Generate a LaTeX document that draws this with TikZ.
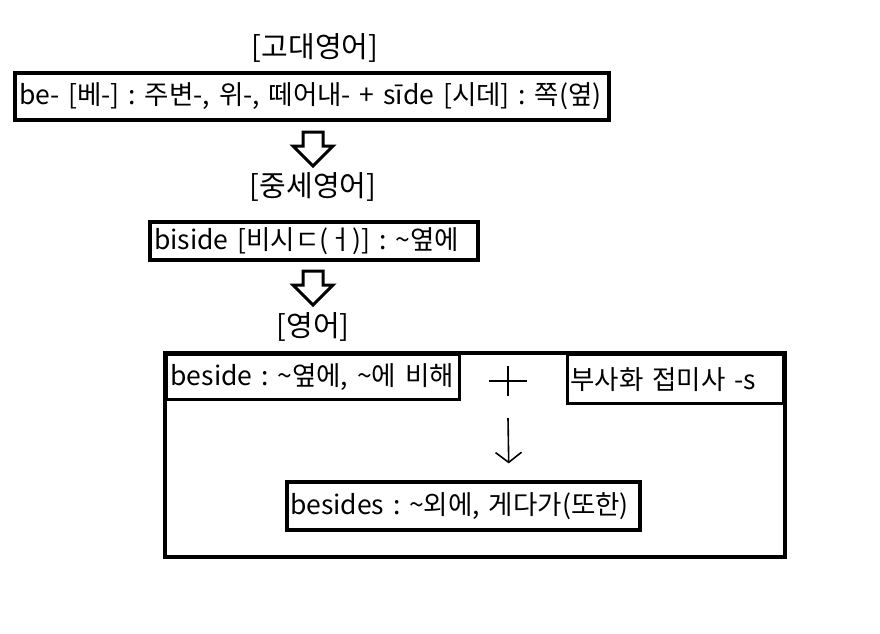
\documentclass[tikz,border=0pt]{standalone}
\usepackage{fontspec}
\setmainfont{Noto Sans CJK KR}
\usetikzlibrary{arrows.meta}
\frenchspacing

\tikzset{
  wordbox/.style={draw,line width=3.2pt,inner xsep=4pt,inner ysep=0pt,align=left,font=\fontsize{26.5}{31}\selectfont},
  era/.style={inner sep=0pt,font=\fontsize{29}{34}\selectfont},
  hollow/.pic={\draw[line width=3pt,line join=miter] (-10,0) -- (-10,-14) -- (-20,-14) -- (0,-34) -- (20,-14) -- (10,-14) -- (10,0) -- cycle;}
}

\begin{document}
\begin{tikzpicture}[x=1pt,y=1pt]
\useasboundingbox (0,0) rectangle (880,-633);
\node[era] (oe) at (315,-48) {[고대영어]};
\node[wordbox,text width=586,minimum height=47] (be) at (312,-96.5) {\mbox{be- [베-] : 주변-, 위-, 떼어내- + sīde [시데] : 쪽(옆)}};
\pic at (313,-132) {hollow};
\node[era] (me) at (313,-187) {[중세영어]};
\node[wordbox,text width=320,minimum height=38] (biside) at (314,-241) {\mbox{biside [비시ㄷ(ㅓ)] : \textasciitilde 옆에}};
\pic at (313,-271) {hollow};
\node[era] (ne) at (313,-327) {[영어]};
\draw[line width=3.2pt] (165,-353) rectangle (785,-557);
\node[wordbox,text width=285,minimum height=45,anchor=north west] (beside) at (165,-353) {\mbox{beside : \textasciitilde 옆에, \textasciitilde 에 비해}};
\node[wordbox,text width=210,minimum height=49,anchor=north east,inner xsep=3pt] (suffix) at (785,-353) {\mbox{부사화 접미사 -s}};
\coordinate (plus) at (508,-381);
\draw[line width=1.6pt] (plus) +(-19,0) -- +(19,0) (plus) +(0,-15) -- +(0,15);
\node[wordbox,text width=347,minimum height=48,inner xsep=3pt] (besides) at (463.5,-506) {\mbox{besides : \textasciitilde 외에, 게다가(또한)}};
\coordinate (down) at (508,-418);
\draw[line width=1.6pt,-{Straight Barb[length=10pt,width=26pt]}] (down) -- ([xshift=1pt]besides.north -| plus) [shorten >=17pt];
\end{tikzpicture}
\end{document}
